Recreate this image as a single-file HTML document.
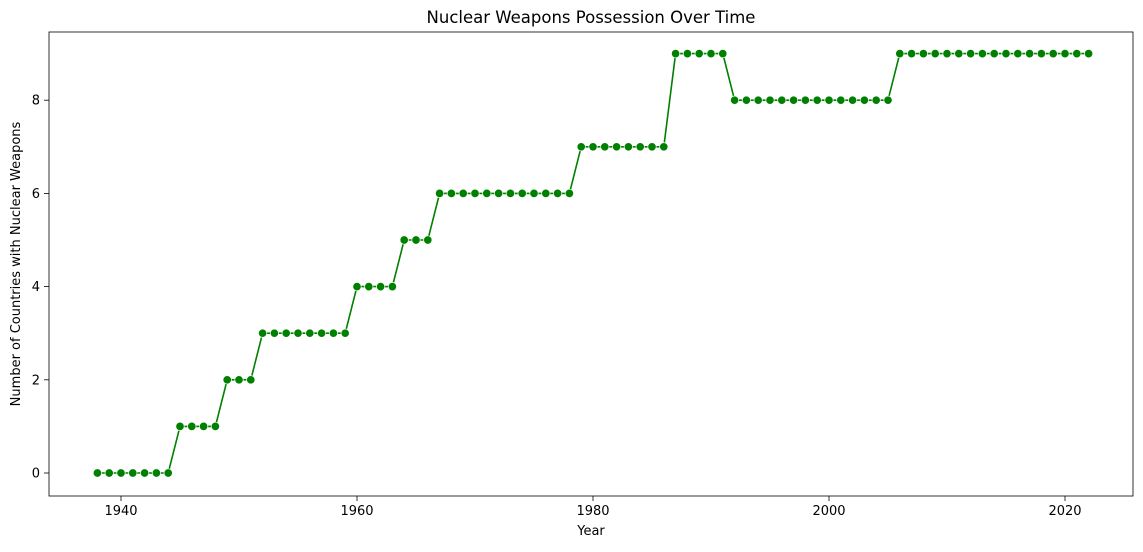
<!DOCTYPE html>
<html><head><meta charset="utf-8"><style>
body{margin:0;background:#fff;}
svg text{font-family:"DejaVu Sans","Liberation Sans",sans-serif;fill:#000;}
</style></head><body>
<svg id="chart" width="1143" height="547"></svg>
<script>
const years=[];for(let y=1938;y<=2022;y++)years.push(y);
const counts=[0,0,0,0,0,0,0, 1,1,1,1, 2,2,2, 3,3,3,3,3,3,3,3, 4,4,4,4, 5,5,5, 6,6,6,6,6,6,6,6,6,6,6,6, 7,7,7,7,7,7,7,7, 9,9,9,9,9, 8,8,8,8,8,8,8,8,8,8,8,8,8,8, 9,9,9,9,9,9,9,9,9,9,9,9,9,9,9,9,9];
const xTicks=[1940,1960,1980,2000,2020];
const yTicks=[0,2,4,6,8];
const L=49,R=1133,T=32,B=496;
const xs=v=>121+(v-1940)*11.8;
const ys=v=>473-v*46.6;
const svg=document.getElementById('chart');
const NS='http://www.w3.org/2000/svg';
function mk(t,a,p){const e=document.createElementNS(NS,t);for(const k in a)e.setAttribute(k,a[k]);(p||svg).appendChild(e);return e;}
const frame=mk('rect',{x:L,y:T,width:R-L,height:B-T,fill:'none',stroke:'#000','stroke-width':0.8});


xTicks.forEach(t=>{
  const g=mk('g',{});
  
  
  mk('line',{x1:xs(t),x2:xs(t),y1:B,y2:B+5,stroke:'#000','stroke-width':0.8},g);
  const tx=mk('text',{x:xs(t),y:B+19,'text-anchor':'middle','font-size':13},g);tx.textContent=t;
});
yTicks.forEach(t=>{
  const g=mk('g',{});
  
  
  mk('line',{x1:L-5,x2:L,y1:ys(t),y2:ys(t),stroke:'#000','stroke-width':0.8},g);
  const tx=mk('text',{x:L-9,y:ys(t)+4.5,'text-anchor':'end','font-size':13},g);tx.textContent=t;
});
const pl=mk('polyline',{points:years.map((y,i)=>xs(y)+','+ys(counts[i])).join(' '),fill:'none',stroke:'#008000','stroke-width':1.6});


years.forEach((y,i)=>{
  const c=mk('circle',{cx:xs(y),cy:ys(counts[i]),r:4.2,fill:'#008000',stroke:'#fff','stroke-width':0.7});
  
  
});
const title=mk('text',{x:(L+R)/2,y:23,'text-anchor':'middle','font-size':16.5});title.textContent='Nuclear Weapons Possession Over Time';


const xl=mk('text',{x:(L+R)/2,y:535,'text-anchor':'middle','font-size':13});xl.textContent='Year';


const yl=mk('text',{x:0,y:0,'text-anchor':'middle','font-size':13,transform:'translate(20,'+((T+B)/2)+') rotate(-90)'});yl.textContent='Number of Countries with Nuclear Weapons';


</script>
</body></html>
